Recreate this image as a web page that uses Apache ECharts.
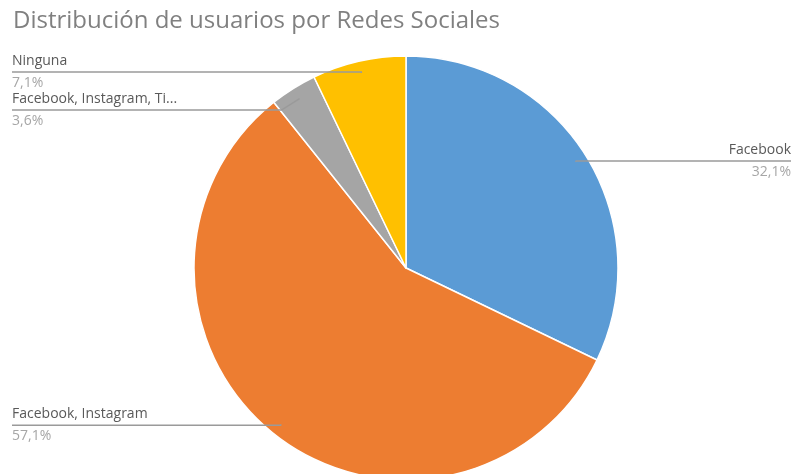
<!DOCTYPE html>
<html>
<head>
<meta charset="utf-8">
<script src="https://cdn.jsdelivr.net/npm/echarts@6/dist/echarts.min.js"></script>
<style>html,body{margin:0;padding:0;background:#fff;}#c{width:803px;height:474px;}</style>
</head>
<body>
<div id="c"></div>
<script>
const titleText = 'Distribución de usuarios por Redes Sociales';
const categories = ['Facebook', 'Facebook, Instagram', 'Facebook, Instagram, Ti...', 'Ninguna'];
const values = [9, 16, 1, 2];
const colors = ['#5B9BD5', '#ED7D31', '#A5A5A5', '#FFC000'];

const chart = echarts.init(document.getElementById('c'));
const center = [406, 268];
const FONT = 'Open Sans';
const LFONT = 'Open Sans';

const pieData = categories.map((c, i) => ({ name: c, value: values[i], itemStyle: { color: colors[i] } }));

chart.setOption({
  animation: false,
  title: {
    text: titleText, left: 8, top: 4,
    textStyle: { fontFamily: FONT, fontSize: 24, fontWeight: 'normal', color: '#808080' }
  },
  series: [
    {
      type: 'pie', center: center, radius: [0, 212], startAngle: 90, clockwise: true,
      silent: true,
      itemStyle: { borderColor: '#fff', borderWidth: 1.5 },
      label: { show: false }, labelLine: { show: false },
      data: pieData
    },
    {
      type: 'pie', center: center, radius: [0, 200], startAngle: 90, clockwise: true,
      silent: true, z: 5,
      itemStyle: { color: 'rgba(0,0,0,0)', borderWidth: 0 },
      label: {
        show: true, position: 'outside', alignTo: 'edge', edgeDistance: 12,
        fontFamily: LFONT,
        formatter: p => '{n|' + p.name + '}\n{p|' + p.percent.toFixed(1).replace('.', ',') + '%}',
        rich: {
          n: { fontFamily: LFONT, fontSize: 14, color: '#595959', lineHeight: 22 },
          p: { fontFamily: LFONT, fontSize: 14, color: '#a6a6a6', lineHeight: 22 }
        }
      },
      labelLine: { show: true, length: 1, length2: 10, lineStyle: { color: '#9a9a9a', width: 1.5 } },
      labelLayout: function (params) {
        const pts = params.labelLinePoints;
        if (!pts || !params.labelRect) return {};
        const r = params.labelRect;
        const last = pts[pts.length - 1];
        const onLeft = last[0] < center[0];
        const np = pts.map(p => p.slice());
        np[np.length - 1] = [onLeft ? r.x : r.x + r.width, last[1]];
        return { labelLinePoints: np };
      },
      data: pieData.map(d => ({ name: d.name, value: d.value }))
    }
  ]
});
</script>
</body>
</html>
